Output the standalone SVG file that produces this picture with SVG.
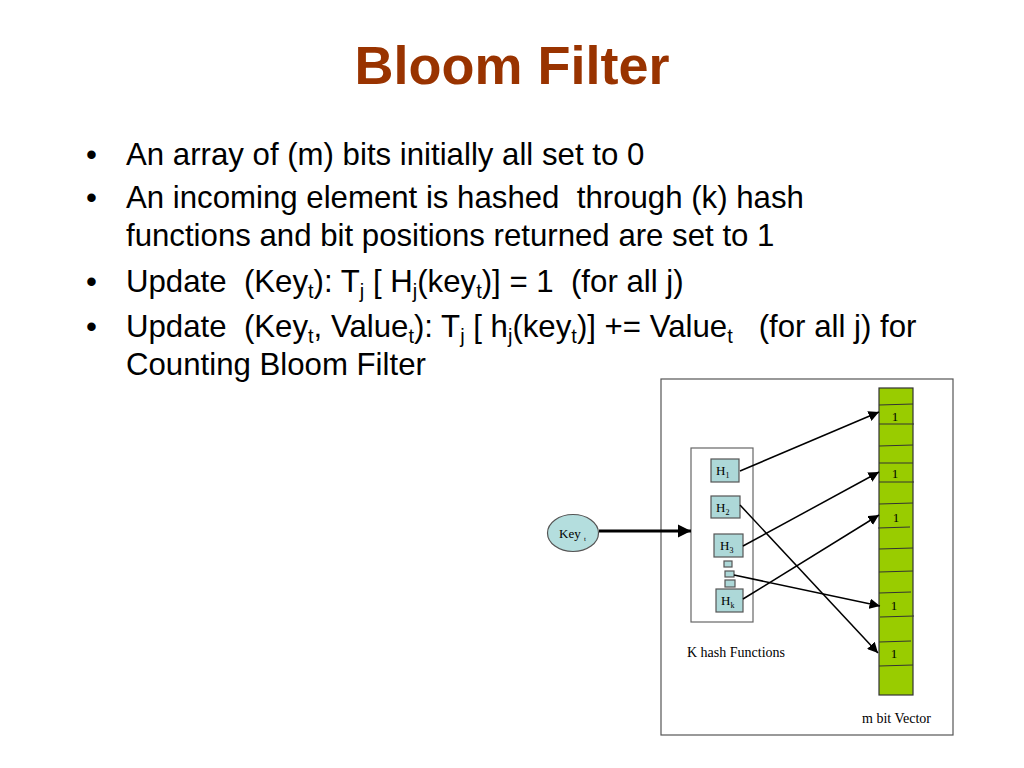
<svg xmlns="http://www.w3.org/2000/svg" width="1024" height="768" viewBox="0 0 1024 768">
<defs>
<style>
.title{font-family:"Liberation Sans",Arial,sans-serif;font-weight:bold;font-size:54px;fill:#993300}
.body{font-family:"Liberation Sans",Arial,sans-serif;font-size:31.2px;fill:#000}
.sub{font-size:20px}
.serif{font-family:"Liberation Serif","Times New Roman",serif;fill:#000}
.lbl{font-size:14px}
.hbox{fill:#add8d8;stroke:#555;stroke-width:1.2}
.cellline{stroke:#333;stroke-width:1}
.conn{stroke:#000;stroke-width:1.5;fill:none;marker-end:url(#ah)}
</style>
<marker id="ah" viewBox="0 0 10 10" refX="10" refY="5" markerWidth="7" markerHeight="7" markerUnits="strokeWidth" orient="auto">
<path d="M0,0 L10,5 L0,10 z" fill="#000"/>
</marker>
<marker id="ahb" viewBox="0 0 10 10" refX="10" refY="5" markerWidth="4.5" markerHeight="4.5" markerUnits="strokeWidth" orient="auto">
<path d="M0,0 L10,5 L0,10 z" fill="#000"/>
</marker>
</defs>
<rect width="1024" height="768" fill="#fff"/>

<text class="title" x="512" y="84" text-anchor="middle">Bloom Filter</text>

<g id="bullets" class="body">
<text x="86" y="165">•</text>
<text x="126" y="165">An array of (m) bits initially all set to 0</text>
<text x="86" y="208">•</text>
<text x="126" y="208">An incoming element is hashed&#160; through (k) hash</text>
<text x="126" y="246">functions and bit positions returned are set to 1</text>
<text x="86" y="292">•</text>
<text x="126" y="292">Update&#160; (Key<tspan class="sub" dy="6">t</tspan><tspan dy="-6">): T</tspan><tspan class="sub" dy="6">j</tspan><tspan dy="-6"> [ H</tspan><tspan class="sub" dy="6">j</tspan><tspan dy="-6">(key</tspan><tspan class="sub" dy="6">t</tspan><tspan dy="-6">)] = 1&#160; (for all j)</tspan></text>
<text x="86" y="337">•</text>
<text x="126" y="337">Update&#160; (Key<tspan class="sub" dy="6">t</tspan><tspan dy="-6">, Value</tspan><tspan class="sub" dy="6">t</tspan><tspan dy="-6">): T</tspan><tspan class="sub" dy="6">j</tspan><tspan dy="-6"> [ h</tspan><tspan class="sub" dy="6">j</tspan><tspan dy="-6">(key</tspan><tspan class="sub" dy="6">t</tspan><tspan dy="-6">)] += Value</tspan><tspan class="sub" dy="6">t</tspan><tspan dy="-6">&#160;&#160; (for all j) for</tspan></text>
<text x="126" y="375">Counting Bloom Filter</text>
</g>

<g id="frame">
<rect x="661" y="379" width="292" height="356" fill="#fff" stroke="#555" stroke-width="1.2"/>
</g>

<g id="hash-functions">
<rect x="691" y="448" width="62" height="174" fill="#fff" stroke="#666" stroke-width="1.2"/>
<text class="serif lbl" x="687" y="657">K hash Functions</text>
</g>

<g id="H1">
<rect class="hbox" x="711" y="459" width="28" height="23"/>
<text class="serif" x="716" y="475" font-size="13">H<tspan font-size="8" dy="3">1</tspan></text>
</g>
<g id="H2">
<rect class="hbox" x="711" y="496" width="29" height="22"/>
<text class="serif" x="716" y="512" font-size="13">H<tspan font-size="8" dy="3">2</tspan></text>
</g>
<g id="H3">
<rect class="hbox" x="714" y="534" width="29" height="23"/>
<text class="serif" x="720" y="550" font-size="13">H<tspan font-size="8" dy="3">3</tspan></text>
</g>
<g id="Hdots">
<rect class="hbox" x="724" y="561" width="8" height="6"/>
<rect class="hbox" x="725" y="571" width="9" height="6"/>
<rect class="hbox" x="725" y="580" width="10" height="7"/>
</g>
<g id="Hk">
<rect class="hbox" x="716" y="589" width="27" height="23"/>
<text class="serif" x="721" y="605" font-size="13">H<tspan font-size="8" dy="3">k</tspan></text>
</g>

<g id="key">
<ellipse cx="573" cy="533" rx="25.5" ry="18.5" fill="#b4dede" stroke="#555" stroke-width="1.2"/>
<text class="serif" x="559" y="538" font-size="13">Key <tspan font-size="7" dy="3">t</tspan></text>
</g>

<g id="vector">
<rect x="879" y="388" width="34" height="307" fill="#99cc00" stroke="#333" stroke-width="1.2"/>
<line class="cellline" x1="879" y1="405" x2="913" y2="404"/>
<line class="cellline" x1="879" y1="424" x2="914" y2="424"/>
<line class="cellline" x1="879" y1="446" x2="913" y2="445"/>
<line class="cellline" x1="879" y1="463" x2="913" y2="463"/>
<line class="cellline" x1="879" y1="482" x2="914" y2="482"/>
<line class="cellline" x1="879" y1="504" x2="913" y2="503"/>
<line class="cellline" x1="878" y1="528" x2="910" y2="527"/>
<line class="cellline" x1="879" y1="549" x2="913" y2="548"/>
<line class="cellline" x1="879" y1="572" x2="913" y2="571"/>
<line class="cellline" x1="879" y1="593" x2="911" y2="592"/>
<line class="cellline" x1="880" y1="617" x2="914" y2="616"/>
<line class="cellline" x1="879" y1="642" x2="911" y2="641"/>
<line class="cellline" x1="879" y1="666" x2="913" y2="665"/>
<g class="serif" font-size="13" text-anchor="middle">
<text x="895" y="421">1</text>
<text x="895" y="478">1</text>
<text x="896" y="522">1</text>
<text x="894" y="610">1</text>
<text x="894" y="658">1</text>
</g>
<text class="serif lbl" x="862" y="723">m bit Vector</text>
</g>

<g id="connectors">
<line x1="599" y1="531" x2="691" y2="531" stroke="#000" stroke-width="3" marker-end="url(#ahb)"/>
<line class="conn" x1="740" y1="471" x2="879" y2="412"/>
<line class="conn" x1="743" y1="546" x2="879" y2="472"/>
<line class="conn" x1="743" y1="599" x2="879" y2="515"/>
<line class="conn" x1="734" y1="575" x2="880" y2="606"/>
<line class="conn" x1="740" y1="505" x2="878" y2="653"/>
</g>
</svg>
